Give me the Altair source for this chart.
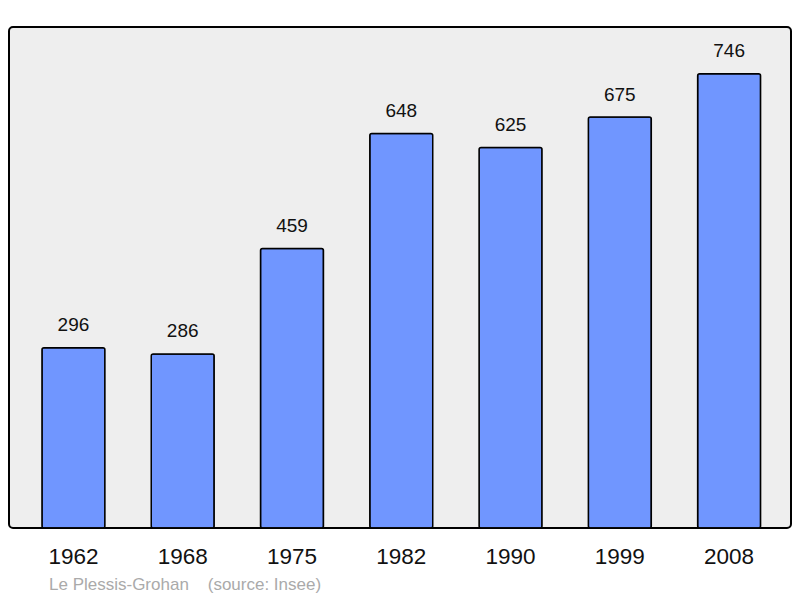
import altair as alt
import pandas as pd

years = ["1962", "1968", "1975", "1982", "1990", "1999", "2008"]
population = [296, 286, 459, 648, 625, 675, 746]

df = pd.DataFrame({"year": years, "pop": population})

FONT = "Liberation Sans, Arial, sans-serif"

x = alt.X("year:N", sort=years, title=None,
          scale=alt.Scale(paddingInner=0.424, paddingOuter=0.29, align=0.52),
          axis=alt.Axis(labelAngle=0, labelFontSize=22.5, labelColor="#111111",
                        labelFont=FONT, ticks=False, tickSize=0, domain=False,
                        grid=False, labelPadding=17))
y = alt.Y("pop:Q", title=None, axis=None,
          scale=alt.Scale(domain=[0, 823], nice=False, zero=True))

bars = alt.Chart(df).mark_bar(
    color="#7096ff", stroke="#000000", strokeWidth=1.5, cornerRadius=2
).encode(x=x, y=y)

labels = alt.Chart(df).mark_text(
    baseline="alphabetic", dy=-16.5, fontSize=19, font=FONT, color="#111111"
).encode(x=x, y=y, text="pop:Q")

chart = alt.layer(bars, labels).properties(
    width=782, height=501,
    background="#ffffff",
    title=alt.TitleParams(
        "Le Plessis-Grohan\u00a0\u00a0\u00a0\u00a0(source: Insee)",
        orient="bottom", anchor="start", frame="group", dx=40, offset=9,
        fontSize=17, font=FONT, fontWeight="normal", color="#aaaaaa"),
    autosize=alt.AutoSizeParams(type="none"),
    padding={"left": 1, "top": 19, "right": 1, "bottom": 70},
).configure_view(
    fill="#eeeeee", stroke="#000000", strokeWidth=2, cornerRadius=4
)

chart.save("out.html", embed_options={"renderer": "svg", "actions": False})
